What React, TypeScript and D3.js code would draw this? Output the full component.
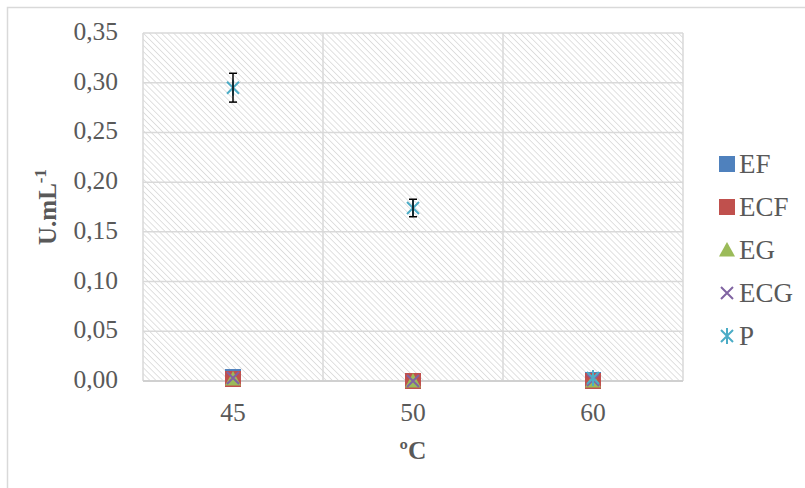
import * as d3 from 'd3'

const categories = ['45', '50', '60']
const seriesNames = ['EF', 'ECF', 'EG', 'ECG', 'P']
const efValues = [0.004, 0.0, 0.001]
const ecfValues = [0.002, 0.0, 0.0]
const egValues = [0.002, 0.0, 0.0]
const ecgValues = [0.003, 0.0, 0.001]
const pValues = [0.295, 0.174, 0.003]
const pErrors = [0.0145, 0.0088, 0]
const yTicks = [0, 0.05, 0.1, 0.15, 0.2, 0.25, 0.3, 0.35]

const colors = ['#4F81BD', '#C0504D', '#9BBB59', '#8064A2', '#4BACC6']
const font = '"Liberation Serif", "Times New Roman", serif'
const grid = '#d9d9d9'

const width = 805
const height = 488
const margin = { top: 33, right: 122, bottom: 107, left: 143 }

const Marker = ({ kind, color, x, y }) => {
  const s = 8
  if (kind === 0 || kind === 1) {
    return <rect x={x - s} y={y - s} width={s * 2} height={s * 2} fill={color} />
  }
  if (kind === 2) {
    return <path d={`M${x},${y - s}L${x + s},${y + s * 0.8}L${x - s},${y + s * 0.8}Z`} fill={color} />
  }
  if (kind === 3) {
    return (
      <path d={`M${x - 6},${y - 6}L${x + 6},${y + 6}M${x + 6},${y - 6}L${x - 6},${y + 6}`} stroke={color} strokeWidth={2} />
    )
  }
  return (
    <path
      d={`M${x - 6},${y - 6}L${x + 6},${y + 6}M${x + 6},${y - 6}L${x - 6},${y + 6}M${x},${y - 8}L${x},${y + 8}`}
      stroke={color}
      strokeWidth={2}
    />
  )
}

export default function App() {
  const x = d3
    .scaleBand()
    .domain(categories)
    .range([margin.left, width - margin.right])
  const y = d3
    .scaleLinear()
    .domain([0, 0.35])
    .range([height - margin.bottom, margin.top])

  const series = [efValues, ecfValues, egValues, ecgValues, pValues]
  const cx = (c) => x(c) + x.bandwidth() / 2
  const legendX = 727
  const legendY = d3.scalePoint().domain(seriesNames).range([164, 336])

  return (
    <svg
      width={width}
      height={height}
      style={{ position: 'fixed', top: 0, left: 0, background: '#fff' }}
      fontFamily={font}
    >
      <defs>
        <pattern id="hatch" patternUnits="userSpaceOnUse" width={4.3} height={4.3} patternTransform="rotate(-45)">
          <line x1={0} y1={-2} x2={0} y2={7} stroke="#dadada" strokeWidth={1.6} />
        </pattern>
      </defs>

      {/* chart area border */}
      <path d={`M7.5,${height}V7.5H${width}`} fill="none" stroke={grid} strokeWidth={1.5} />

      {/* plot area */}
      <rect
        x={margin.left}
        y={margin.top}
        width={width - margin.left - margin.right}
        height={height - margin.top - margin.bottom}
        fill="url(#hatch)"
      />

      {/* gridlines */}
      {yTicks.map((t) => (
        <line key={t} x1={margin.left} x2={width - margin.right} y1={y(t)} y2={y(t)} stroke={grid} strokeWidth={1.5} />
      ))}
      {categories.map((c) => (
        <line
          key={c}
          x1={x(c) + x.bandwidth()}
          x2={x(c) + x.bandwidth()}
          y1={margin.top}
          y2={height - margin.bottom}
          stroke={grid}
          strokeWidth={1.5}
        />
      ))}
      <line x1={margin.left} x2={margin.left} y1={margin.top} y2={height - margin.bottom} stroke={grid} strokeWidth={1.5} />
      <line x1={margin.left} x2={width - margin.right} y1={y(0)} y2={y(0)} stroke="#d0d0d0" strokeWidth={2} />

      {/* y tick labels */}
      {yTicks.map((t) => (
        <text key={t} x={118} y={y(t) + 7} textAnchor="end" fontSize={25.5} fill="#595959">
          {d3.format('.2f')(t).replace('.', ',')}
        </text>
      ))}

      {/* x tick labels */}
      {categories.map((c) => (
        <text key={c} x={cx(c)} y={421} textAnchor="middle" fontSize={25.5} fill="#595959">
          {c}
        </text>
      ))}

      {/* axis titles */}
      <text x={413} y={459} textAnchor="middle" fontSize={25.5} fontWeight="bold" fill="#595959">
        ºC
      </text>
      <text
        transform={`translate(56,${(margin.top + height - margin.bottom) / 2}) rotate(-90)`}
        textAnchor="middle"
        fontSize={25}
        fontWeight="bold"
        fill="#595959"
      >
        U.mL<tspan fontSize={17} dy={-10}>-1</tspan>
      </text>

      {/* markers */}
      {series.map((vals, si) =>
        vals.map((v, i) => (
          <Marker key={`${si}-${i}`} kind={si} color={colors[si]} x={cx(categories[i])} y={y(v)} />
        ))
      )}

      {/* error bars for P */}
      {pValues.map((v, i) => {
        if (!pErrors[i]) return null
        const px = cx(categories[i])
        const hi = y(v + pErrors[i])
        const lo = y(v - pErrors[i])
        return (
          <g key={i} stroke="#000" strokeWidth={1.5}>
            <line x1={px} x2={px} y1={hi} y2={lo} />
            <line x1={px - 4} x2={px + 4} y1={hi} y2={hi} />
            <line x1={px - 4} x2={px + 4} y1={lo} y2={lo} />
          </g>
        )
      })}

      {/* legend */}
      {seriesNames.map((n, si) => (
        <g key={n}>
          <Marker kind={si} color={colors[si]} x={legendX} y={legendY(n)} />
          <text x={739} y={legendY(n) + 9} fontSize={27} fill="#595959">
            {n}
          </text>
        </g>
      ))}
    </svg>
  )
}
